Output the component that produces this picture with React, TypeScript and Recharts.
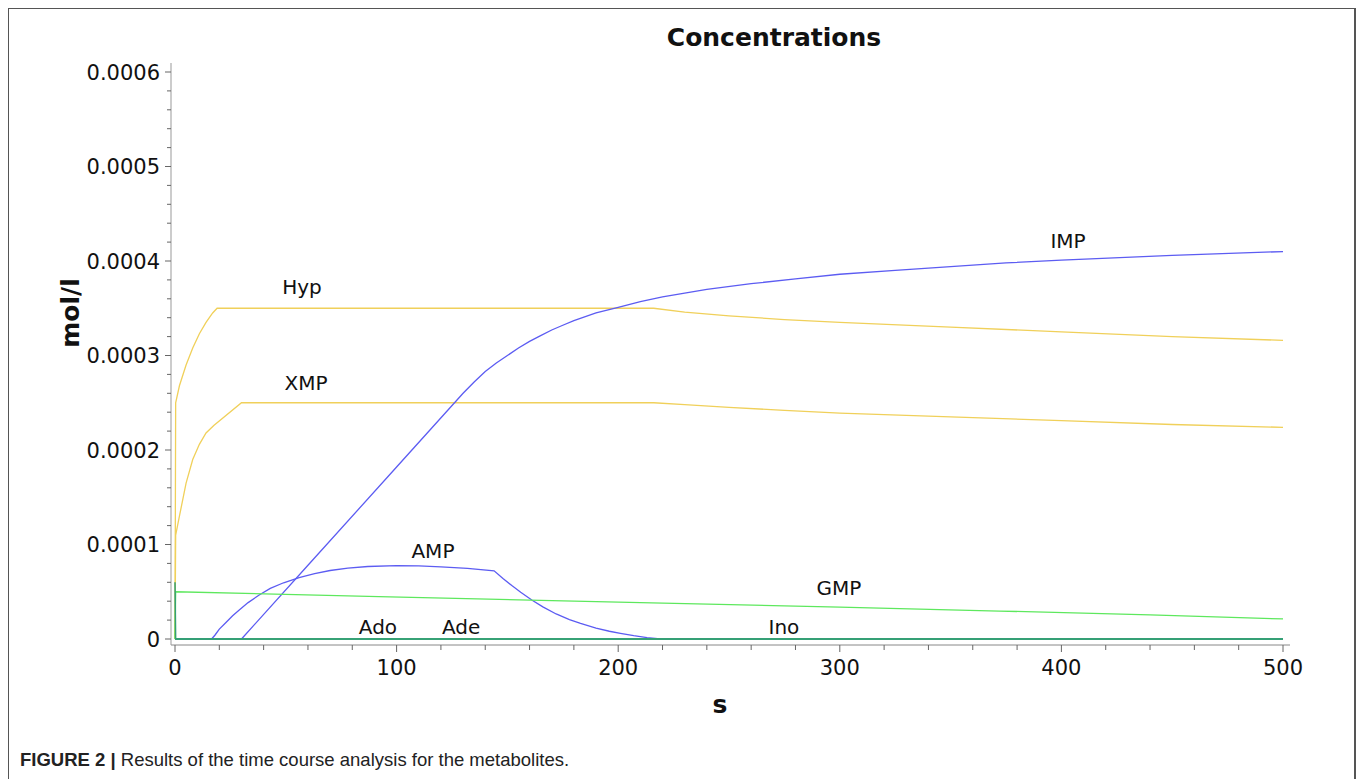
import React from 'react';
import { LineChart, Line, XAxis, YAxis, ReferenceDot } from 'recharts';

// time points (s) and concentrations (mol/l)
const hypT = [0, 0.3, 2, 5, 8, 11, 14, 17, 19, 216, 230, 250, 275, 300, 350, 400, 450, 500];
const hypV = [0, 0.00025, 0.000268, 0.00029, 0.000308, 0.000323, 0.000335, 0.000345, 0.00035, 0.00035,
  0.000346, 0.000342, 0.000338, 0.000335, 0.00033, 0.000325, 0.00032, 0.000316];

const xmpT = [0, 0.3, 2, 5, 8, 11, 14, 17.5, 30, 216, 230, 250, 275, 300, 350, 400, 450, 500];
const xmpV = [0, 0.00011, 0.00013, 0.000165, 0.00019, 0.000206, 0.000218, 0.000226, 0.00025, 0.00025,
  0.000248, 0.000245, 0.000242, 0.000239, 0.000235, 0.000231, 0.000227, 0.000224];

const impT = [0, 30, 60, 100, 130, 135, 140, 145, 150, 155, 160, 165, 170, 175, 180, 190, 200, 210, 220,
  230, 240, 260, 280, 300, 325, 350, 375, 400, 450, 500];
const impV = [0, 0, 0.000078, 0.000182, 0.00026, 0.000272, 0.000283, 0.000292, 0.0003, 0.000308, 0.000315,
  0.000321, 0.000327, 0.000332, 0.000337, 0.000345, 0.000351, 0.000357, 0.000362, 0.000366, 0.00037,
  0.000376, 0.000381, 0.000386, 0.00039, 0.000394, 0.000398, 0.000401, 0.000406, 0.00041];

const ampT = [0, 16.5, 18, 20, 23, 26, 29, 33, 38, 43, 49, 56, 63, 70, 78, 87, 100, 110, 120, 132, 144,
  148, 152, 156, 161, 166, 172, 178, 183, 190, 196, 201, 207, 213, 219, 500];
const ampV = [0, 0, 0.000004, 0.0000105, 0.0000175, 0.0000245, 0.0000307, 0.0000385, 0.0000466, 0.0000535,
  0.0000595, 0.000065, 0.0000692, 0.0000725, 0.000075, 0.0000767, 0.0000776, 0.0000773, 0.0000764,
  0.0000748, 0.0000722, 0.000064, 0.0000565, 0.0000495, 0.0000413, 0.000034, 0.0000265, 0.0000205,
  0.0000165, 0.0000115, 0.0000082, 0.000006, 0.0000035, 0.0000015, 0, 0];

const gmpT = [0, 0.3, 92, 205, 300, 372, 440, 500];
const gmpV = [0, 0.00005, 0.0000448, 0.0000388, 0.0000338, 0.0000296, 0.0000256, 0.0000212];

const adoT = [0, 0.3, 500];
const adoV = [0.00006, 0, 0];
const adeT = [0, 500];
const adeV = [0, 0];
const inoT = [0, 500];
const inoV = [0, 0];

// curve labels: name, time, concentration
const labelNames = ['Hyp', 'XMP', 'IMP', 'AMP', 'GMP', 'Ado', 'Ade', 'Ino'];
const labelT = [57.3, 59.1, 403, 116.4, 299.6, 91.6, 129.1, 274.8];
const labelV = [0.0003725, 0.000271, 0.000421, 0.0000931, 0.000054, 0.0000127, 0.0000127, 0.0000127];

const xTicks = [0, 20, 40, 60, 80, 100, 120, 140, 160, 180, 200, 220, 240, 260, 280, 300, 320, 340, 360,
  380, 400, 420, 440, 460, 480, 500];
const yTicks = Array.from({ length: 31 }, (_, i) => i * 0.00002);

const zip = (t: number[], v: number[]) => t.map((x, i) => ({ t: x, v: v[i] }));

const FONT = '"DejaVu Sans", Verdana, sans-serif';
const YELLOW = '#f0d05a';
const BLUE = '#5c5cf2';
const GREEN = '#5ee85e';
const TEAL = '#34a074';

const XTick = (props: any) => {
  const { x, y, payload } = props;
  const major = Math.round(payload.value) % 100 === 0;
  return (
    <g>
      <line x1={x} y1={y} x2={x} y2={y + (major ? 7 : 5)} stroke="#666" />
      {major && (
        <text x={x} y={y + 30} textAnchor="middle" fontSize={21} fontFamily={FONT} fill="#111">
          {Math.round(payload.value)}
        </text>
      )}
    </g>
  );
};

const YTick = (props: any) => {
  const { x, y, payload } = props;
  const n = Math.round(payload.value / 0.00002);
  const major = n % 5 === 0;
  const label = n === 0 ? '0' : (n * 0.00002).toFixed(4);
  return (
    <g>
      <line x1={x} y1={y} x2={x - (major ? 6 : 4)} y2={y} stroke="#666" />
      {major && (
        <text x={x - 11} y={y + 7.5} textAnchor="end" fontSize={21} fontFamily={FONT} fill="#111">
          {label}
        </text>
      )}
    </g>
  );
};

const App = () => {
  return (
    <div>
      <div
        style={{
          position: 'absolute', left: 8, top: 8, width: 1348, height: 771, boxSizing: 'border-box',
          borderTop: '1px solid #555', borderLeft: '1px solid #555', borderRight: '2px solid #555',
        }}
      />
      <div style={{ position: 'absolute', left: 0, top: 0 }}>
        <LineChart width={1358} height={779} margin={{ top: 63, right: 68, bottom: 0, left: 0 }}>
          <XAxis
            xAxisId="top" orientation="top" type="number" domain={[0, 500]} height={0}
            tick={false} tickLine={false} axisLine={{ stroke: '#cfcfcf', strokeWidth: 1.5 }}
          />
          <XAxis
            type="number" dataKey="t" domain={[0, 500]} ticks={xTicks} interval={0}
            padding={{ left: 4, right: 7 }} height={134} tickSize={0} tickMargin={0}
            tickLine={false} tick={<XTick />} axisLine={{ stroke: '#888' }}
          />
          <YAxis
            type="number" domain={[0, 0.0006]} ticks={yTicks} interval={0} width={171}
            padding={{ top: 9, bottom: 6 }} tickSize={0} tickMargin={0}
            tickLine={false} tick={<YTick />} axisLine={{ stroke: '#999' }}
          />
          <Line data={zip(hypT, hypV)} dataKey="v" type="linear" stroke={YELLOW} strokeWidth={1.3} dot={false} isAnimationActive={false} />
          <Line data={zip(xmpT, xmpV)} dataKey="v" type="linear" stroke={YELLOW} strokeWidth={1.3} dot={false} isAnimationActive={false} />
          <Line data={zip(impT, impV)} dataKey="v" type="linear" stroke={BLUE} strokeWidth={1.3} dot={false} isAnimationActive={false} />
          <Line data={zip(ampT, ampV)} dataKey="v" type="linear" stroke={BLUE} strokeWidth={1.3} dot={false} isAnimationActive={false} />
          <Line data={zip(gmpT, gmpV)} dataKey="v" type="linear" stroke={GREEN} strokeWidth={1.3} dot={false} isAnimationActive={false} />
          <Line data={zip(adoT, adoV)} dataKey="v" type="linear" stroke={TEAL} strokeWidth={1.5} dot={false} isAnimationActive={false} />
          <Line data={zip(adeT, adeV)} dataKey="v" type="linear" stroke={TEAL} strokeWidth={1.5} dot={false} isAnimationActive={false} />
          <Line data={zip(inoT, inoV)} dataKey="v" type="linear" stroke={TEAL} strokeWidth={1.5} dot={false} isAnimationActive={false} />
          {labelNames.map((name, i) => (
            <ReferenceDot
              key={name} x={labelT[i]} y={labelV[i]} r={0} fill="none" stroke="none" ifOverflow="visible"
              label={{ value: name, position: 'center', fontSize: 20, fontFamily: FONT, fill: '#111' }}
            />
          ))}
          <text x={774} y={46} textAnchor="middle" fontSize={25} fontWeight="bold" fontFamily={FONT} fill="#111">
            Concentrations
          </text>
          <text x={70} y={313} transform="rotate(-90 70 313)" dy={9} textAnchor="middle" fontSize={25}
            fontWeight="bold" fontFamily={FONT} fill="#111">
            mol/l
          </text>
          <text x={720} y={713} textAnchor="middle" fontSize={25} fontWeight="bold" fontFamily={FONT} fill="#111">
            s
          </text>
        </LineChart>
      </div>
      <div
        style={{
          position: 'absolute', left: 20, top: 749, fontFamily: '"Liberation Sans", Arial, sans-serif',
          fontSize: 18.5, color: '#222', whiteSpace: 'nowrap',
        }}
      >
        <b>FIGURE 2 |</b> Results of the time course analysis for the metabolites.
      </div>
    </div>
  );
};

export default App;
